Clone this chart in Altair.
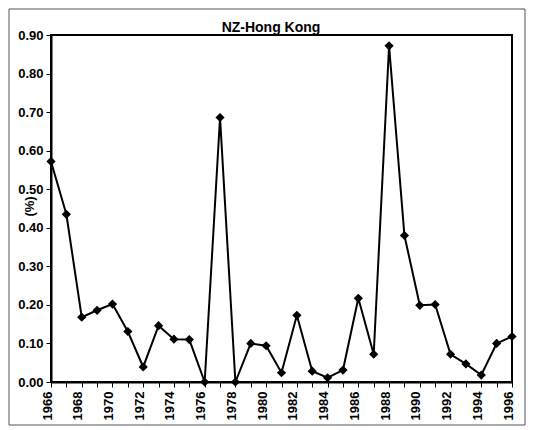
import altair as alt
import pandas as pd

years = list(range(1966, 1997))
values = [0.572, 0.435, 0.168, 0.186, 0.202, 0.131, 0.039, 0.146, 0.111, 0.110,
          0.000, 0.686, 0.000, 0.100, 0.094, 0.024, 0.173, 0.028, 0.011, 0.031,
          0.217, 0.072, 0.872, 0.380, 0.199, 0.201, 0.072, 0.047, 0.018, 0.100,
          0.118]
label_years = list(range(1966, 1997, 2))
y_ticks = [0.0, 0.1, 0.2, 0.3, 0.4, 0.5, 0.6, 0.7, 0.8, 0.9]
title_text = "NZ-Hong Kong"
y_title = "(%)"

df = pd.DataFrame({"year": years, "value": values})

FONT = "Liberation Sans"
FS = 13

x_scale = alt.Scale(domain=[1966, 1996], nice=False, zero=False)
y_scale = alt.Scale(domain=[0, 0.9], nice=False)

# ticks every year, no labels
x_ticks_axis = alt.Axis(values=years, labels=False, title=None, grid=False, tickSize=5,
                        orient="bottom", domainColor="black", domainWidth=2,
                        tickColor="black")
# labels every other year
x_lab_axis = alt.Axis(values=label_years, format="d", labelAngle=-90, title=None,
                      orient="bottom", grid=False, ticks=False, domain=False,
                      labelPadding=9, labelOffset=-4, labelFontSize=FS,
                      labelFontWeight="bold", labelFont=FONT, labelColor="black",
                      labelOverlap=False, labelFlush=False, labelBound=False)
y_axis = alt.Axis(values=y_ticks, format=".2f", title=y_title, grid=False,
                  tickSize=5, labelPadding=3, labelFontSize=FS,
                  labelFontWeight="bold", labelFont=FONT, labelColor="black",
                  labelOverlap=False, labelFlush=False, labelBound=False,
                  titleFont=FONT, titleFontSize=FS, titleFontWeight="bold",
                  titleColor="black", titleX=-22, titleY=171, titleAngle=-90,
                  titleAlign="center", titleBaseline="middle",
                  domainColor="black", domainWidth=2, tickColor="black")

one = alt.Data(values=[{}])

frame = alt.Chart(one).mark_rect(
    fill=None, stroke="#555555", strokeWidth=1, clip=False).encode(
    x=alt.value(-42), x2=alt.value(474), y=alt.value(-26), y2=alt.value(390))

title = alt.Chart(one).mark_text(
    font=FONT, fontSize=14, fontWeight="bold", color="black",
    align="center", baseline="alphabetic", clip=False).encode(
    x=alt.value(220), y=alt.value(-3), text=alt.value(title_text))

line = alt.Chart(df).mark_line(color="black", strokeWidth=2).encode(
    x=alt.X("year:Q", scale=x_scale, axis=x_ticks_axis),
    y=alt.Y("value:Q", scale=y_scale, axis=y_axis))
pts = alt.Chart(df).mark_point(shape="diamond", filled=True, color="black",
                               size=85, opacity=1).encode(
    x=alt.X("year:Q", scale=x_scale, axis=x_lab_axis),
    y=alt.Y("value:Q", scale=y_scale, axis=y_axis))

chart = alt.layer(frame, title, line, pts).resolve_axis(x="independent").properties(
    width=461, height=347,
    autosize=alt.AutoSizeParams(type="none"),
    padding={"left": 43, "top": 27, "right": 15, "bottom": 44},
).configure_view(stroke="black", strokeWidth=2)

chart.save("out.html", embed_options={"renderer": "svg", "actions": False})
